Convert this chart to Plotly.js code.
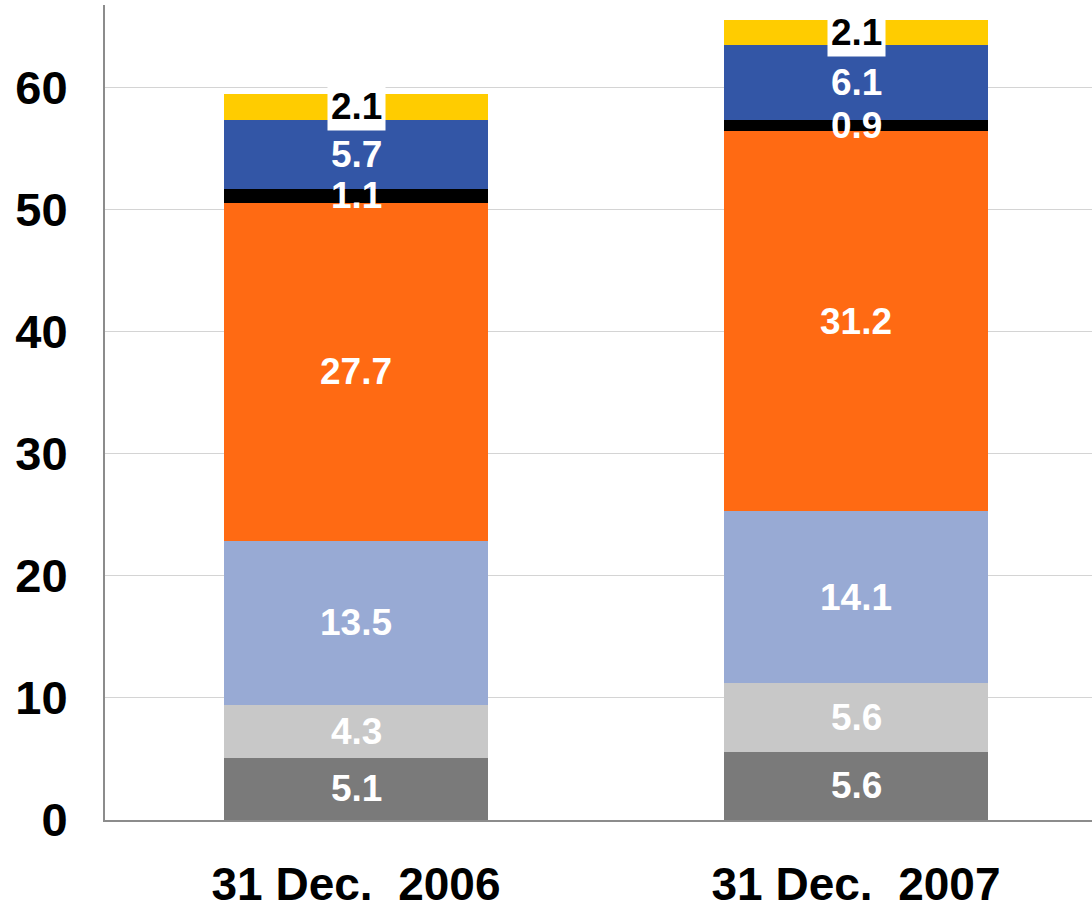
<!DOCTYPE html>
<html>
<head>
<meta charset="utf-8">
<script src="https://cdn.plot.ly/plotly-3.0.1.min.js"></script>
<style>html,body{margin:0;padding:0;background:#fff}#chart{width:1092px;height:912px}</style>
</head>
<body>
<div id="chart"></div>
<script>
// Data
var categories = ["31 Dec.\u00a0\u00a02006", "31 Dec.\u00a0\u00a02007"];
var seriesNames = ["Series 1", "Series 2", "Series 3", "Series 4", "Series 5", "Series 6", "Series 7"];
var s1 = [5.1, 5.6];
var s2 = [4.3, 5.6];
var s3 = [13.5, 14.1];
var s4 = [27.7, 31.2];
var s5 = [1.1, 0.9];
var s6 = [5.7, 6.1];
var s7 = [2.1, 2.1];
var yTicks = [0, 10, 20, 30, 40, 50, 60];

// Styles
var colors = ["#7a7a7a", "#c8c8c8", "#98aad4", "#ff6a13", "#000000", "#3356a6", "#ffcc00"];
var labelColors = ["#ffffff", "#ffffff", "#ffffff", "#ffffff", "#ffffff", "#ffffff", "#000000"];
var labelBg = [null, null, null, null, null, null, "#ffffff"];
var font = "Liberation Sans, Arial, sans-serif";

var series = [s1, s2, s3, s4, s5, s6, s7];
var xIdx = categories.map(function(c, i){ return i; });

var traces = series.map(function(vals, k){
  return {
    type: "bar",
    name: seriesNames[k],
    x: xIdx,
    y: vals,
    width: 0.528,
    marker: {color: colors[k], line: {width: 0}},
    hoverinfo: "y+name"
  };
});

var annotations = [];
var cum = categories.map(function(){ return 0; });
series.forEach(function(vals, k){
  vals.forEach(function(v, i){
    var mid = cum[i] + v / 2;
    cum[i] += v;
    var a = {
      x: i, y: mid, xref: "x", yref: "y",
      text: v.toFixed(1), showarrow: false,
      font: {family: font, size: 37, color: labelColors[k], weight: "bold"},
      xanchor: "center", yanchor: "middle"
    };
    if (labelBg[k]) { a.bgcolor = labelBg[k]; a.borderpad = 3; }
    annotations.push(a);
  });
});

var layout = {
  width: 1092, height: 912,
  barmode: "stack",
  bargap: 0,
  showlegend: false,
  paper_bgcolor: "#ffffff",
  plot_bgcolor: "#ffffff",
  margin: {l: 105, r: 0, t: 5, b: 92},
  font: {family: font, color: "#000"},
  xaxis: {
    range: [-0.502, 1.472],
    tickmode: "array",
    tickvals: xIdx,
    ticktext: categories,
    tickfont: {family: font, size: 46, color: "#000", weight: "bold"},
    showgrid: false,
    zeroline: false,
    showline: true,
    linecolor: "#8c8c8c",
    linewidth: 2,
    ticks: "",
    ticklabelstandoff: 23
  },
  yaxis: {
    range: [0, 66.8],
    tickmode: "array",
    tickvals: yTicks,
    ticktext: yTicks.map(String),
    tickfont: {family: font, size: 47, color: "#000", weight: "bold"},
    showgrid: true,
    gridcolor: "#d4d4d4",
    gridwidth: 1,
    zeroline: false,
    showline: true,
    linecolor: "#8c8c8c",
    linewidth: 2,
    ticks: "",
    ticklabelstandoff: 26
  },
  annotations: annotations
};

Plotly.newPlot("chart", traces, layout, {displayModeBar: false, staticPlot: true});
</script>
</body>
</html>
